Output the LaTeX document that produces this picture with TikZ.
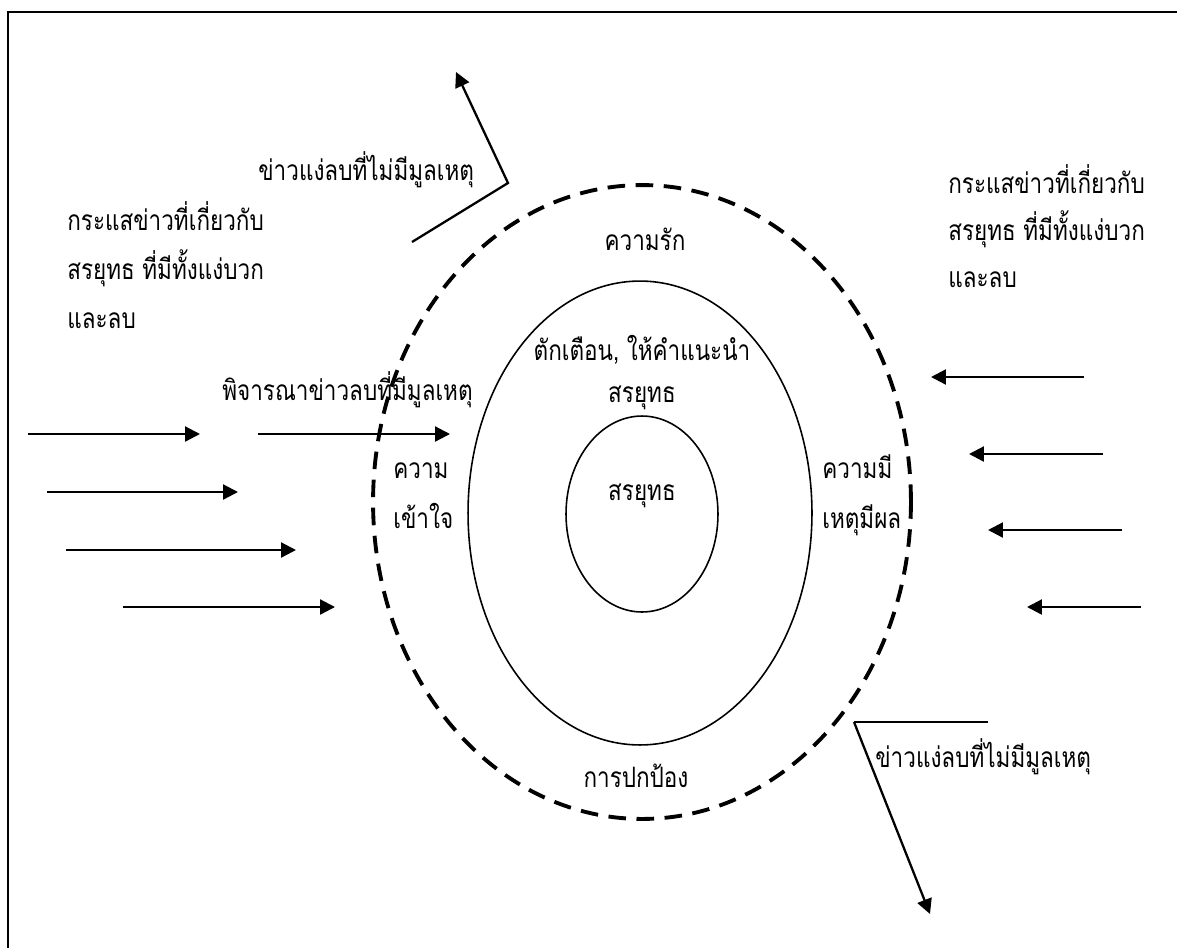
\documentclass[tikz,border=0pt]{standalone}
\usepackage{fontspec}
\newfontfamily\thaifont[Script=Thai, FakeStretch=0.8]{Loma}
\usetikzlibrary{positioning,arrows.meta,shapes.geometric}

\tikzset{
  txt/.style={font=\thaifont\fontsize{16}{18}\selectfont, inner sep=0pt},
  ring/.style={ellipse, draw, line width=0.9pt, inner sep=0pt},
  news/.style={line width=1.3pt, -{Triangle[length=8.5pt,width=8.5pt]}},
}

\begin{document}
\begin{tikzpicture}[x=0.02cm,y=-0.02cm]
\useasboundingbox (0,0) rectangle (1177,948);

% ======================================
% FRAME
% ======================================
\coordinate (frameTR) at (1177,12);
\coordinate (frameTL) at (8,12);
\coordinate (frameBL) at (8,948);
\draw[line width=1.2pt] (frameTR) -- (frameTL) -- (frameBL);

% ======================================
% THE RINGS
% ======================================
\node[ring, line width=2.2pt, dash pattern=on 10pt off 6pt, minimum width=10.76cm, minimum height=12.68cm] (outer) at (642,502) {};
\node[ring, minimum width=6.88cm, minimum height=9.28cm] (mid) at (640,513) {};
\node[ring, minimum width=3.04cm, minimum height=3.92cm] (core) at (642,514) {};

\node[txt, anchor=base] (love) at (645,250) {ความรัก};
\node[txt, anchor=base] (warn) at (642,360) {ตักเตือน, ให้คำแนะนำ};
\node[txt, below=24pt of warn.base, anchor=base] (warnName) {สรยุทธ};
\node[txt, anchor=base] (coreName) at (642,500) {สรยุทธ};
\node[txt, anchor=base] (protect) at (636,787) {การปกป้อง};

\node[txt, anchor=base west] (understand) at (393,478) {ความ};
\node[txt, below=29pt of understand.base west, anchor=base west] (understand2) {เข้าใจ};
\node[txt, anchor=base west] (reason) at (822,478) {ความมี};
\node[txt, below=29pt of reason.base west, anchor=base west] (reason2) {เหตุมีผล};

% ======================================
% NEWS FROM THE LEFT
% ======================================
\node[txt, anchor=base west] (newsL) at (67,230) {กระแสข่าวที่เกี่ยวกับ};
\node[txt, below=28pt of newsL.base west, anchor=base west] (newsL2) {สรยุทธ ที่มีทั้งแง่บวก};
\node[txt, below=28pt of newsL2.base west, anchor=base west] (newsL3) {และลบ};

\node[txt, anchor=base west] (consider) at (222,400) {พิจารณาข่าวลบที่มีมูลเหตุ};

\foreach \n/\xa/\xb/\yy in {1/28/200/434, 2/258/450/434, 3/47/238/492, 4/66/296/550, 5/123/335/607} {
  \coordinate (inL\n) at (\xa,\yy);
  \coordinate (tipL\n) at (\xb,\yy);
  \draw[news] (inL\n) -- (tipL\n);
}

% ======================================
% NEWS FROM THE RIGHT
% ======================================
\node[txt, anchor=base west] (newsR) at (948,193) {กระแสข่าวที่เกี่ยวกับ};
\node[txt, below=27pt of newsR.base west, anchor=base west] (newsR2) {สรยุทธ ที่มีทั้งแง่บวก};
\node[txt, below=27pt of newsR2.base west, anchor=base west] (newsR3) {และลบ};

\foreach \n/\xa/\xb/\yy in {1/1084/931/377, 2/1103/969/454, 3/1122/988/530, 4/1141/1027/607} {
  \coordinate (inR\n) at (\xa,\yy);
  \coordinate (tipR\n) at (\xb,\yy);
  \draw[news] (inR\n) -- (tipR\n);
}

% ======================================
% RUMOURS BOUNCING OFF
% ======================================
\node[txt, anchor=base west] (rumorTop) at (258,180) {ข่าวแง่ลบที่ไม่มีมูลเหตุ};
\coordinate (rumorTopA) at (412,242);
\coordinate (rumorTopB) at (508,183);
\coordinate (rumorTopC) at (456,72);
\draw[news] (rumorTopA) -- (rumorTopB) -- (rumorTopC);

\node[txt, anchor=base west] (rumorBot) at (875,767) {ข่าวแง่ลบที่ไม่มีมูลเหตุ};
\coordinate (rumorBotA) at (988,722);
\coordinate (rumorBotB) at (854,722);
\coordinate (rumorBotC) at (930,914);
\draw[line width=0.8pt] (rumorBotA) -- (rumorBotB);
\draw[news] (rumorBotB) -- (rumorBotC);

\end{tikzpicture}
\end{document}
